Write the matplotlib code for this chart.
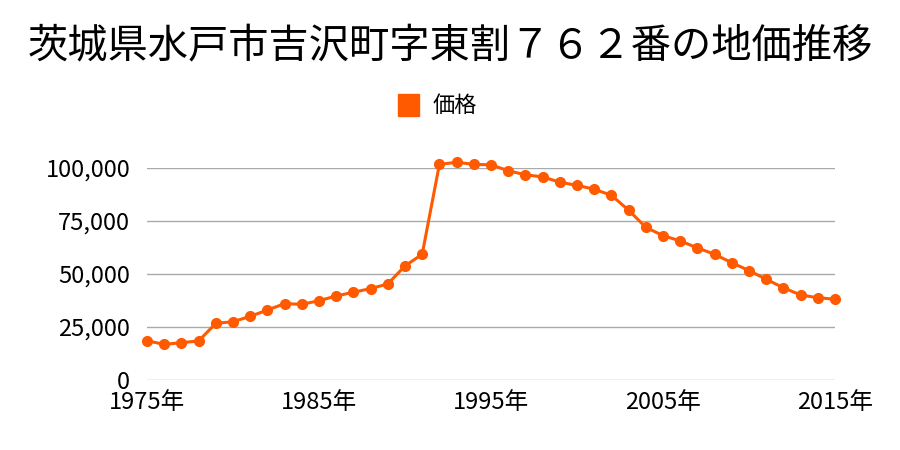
import matplotlib
matplotlib.use("Agg")
import matplotlib.pyplot as plt
from matplotlib.ticker import FuncFormatter

plt.rcParams["font.family"] = ["Noto Sans CJK JP", "DejaVu Sans"]

# データ
years = list(range(1975, 2016))
prices = [
    18500, 16800, 17600, 18400, 26700, 27500, 30000, 33000, 36000, 35700,
    37400, 39600, 41400, 43100, 45300, 53800, 59300, 101700, 102700, 101700,
    101500, 98700, 96800, 95800, 93300, 91800, 90000, 87100, 80100, 72000,
    68100, 65600, 62300, 59300, 55300, 51600, 47500, 43500, 40100, 38800,
    38100,
]
x_ticks = [1975, 1985, 1995, 2005, 2015]
y_ticks = [0, 25000, 50000, 75000, 100000]
title = "茨城県水戸市吉沢町字東割７６２番の地価推移"
series_name = "価格"

color = "#ff5a00"

fig = plt.figure(figsize=(9, 4.5), dpi=100)
ax = fig.add_axes([0.1633, 0.1556, 0.7645, 0.4711])

ax.plot(years, prices, color=color, lw=2.2, marker="o", ms=7,
        clip_on=False, zorder=3, label=series_name)

ax.set_xlim(1975, 2015)
ax.set_ylim(0, 100000)
ax.set_xticks(x_ticks)
ax.set_xticklabels([f"{y}年" for y in x_ticks])
ax.set_yticks(y_ticks)
ax.yaxis.set_major_formatter(FuncFormatter(lambda v, p: f"{int(v):,}"))
ax.tick_params(axis="y", length=0, labelsize=17, pad=12)
ax.tick_params(axis="x", length=0, labelsize=17, pad=8)
ax.grid(axis="y", color="#aaaaaa", lw=1)
ax.set_axisbelow(True)
for s in ax.spines.values():
    s.set_visible(False)

fig.text(0.5, 0.898, title, ha="center", va="center", fontsize=29)

# 凡例
fig.patches.append(plt.Rectangle((398 / 900, 1 - 116 / 450), 21 / 900, 22 / 450,
                                 transform=fig.transFigure, color=color))
fig.text(433 / 900, 1 - 105 / 450, series_name, ha="left", va="center", fontsize=16)

fig.savefig("out.png", dpi=100, facecolor="white")
